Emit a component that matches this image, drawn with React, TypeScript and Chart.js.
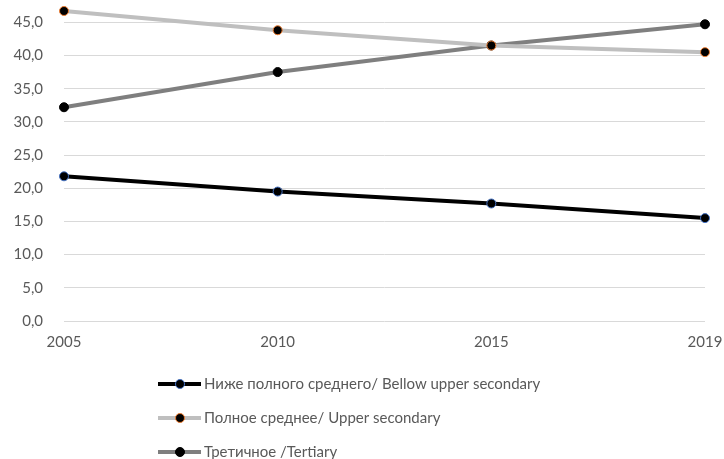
import React, { useEffect, useRef } from "react";
import { Chart, registerables } from "chart.js";

Chart.register(...registerables);

const years = ["2005", "2010", "2015", "2019"];
const belowUpperSecondary = [21.8, 19.5, 17.7, 15.5];
const upperSecondary = [46.7, 43.8, 41.5, 40.5];
const tertiary = [32.2, 37.5, 41.5, 44.7];
const yTicks = [0, 5, 10, 15, 20, 25, 30, 35, 40, 45];
const seriesNames = [
  "Ниже полного среднего/ Bellow upper secondary",
  "Полное среднее/ Upper secondary",
  "Третичное /Tertiary",
];

const FONT = "Lato, 'Open Sans', sans-serif";
const TEXT = "#595959";

const legendPlugin = {
  id: "customLegend",
  afterDraw(chart: any) {
    const ctx = chart.ctx;
    const rows = [384, 418, 452];
    chart.data.datasets.forEach((ds: any, i: number) => {
      const y = rows[i];
      ctx.save();
      ctx.strokeStyle = ds.borderColor;
      ctx.lineWidth = 4;
      ctx.beginPath();
      ctx.moveTo(158, y);
      ctx.lineTo(201, y);
      ctx.stroke();
      ctx.beginPath();
      ctx.arc(180, y, 4.5, 0, Math.PI * 2);
      ctx.fillStyle = ds.pointBackgroundColor;
      ctx.fill();
      ctx.lineWidth = 1;
      ctx.strokeStyle = ds.pointBorderColor;
      ctx.stroke();
      ctx.fillStyle = TEXT;
      ctx.font = `15px ${FONT}`;
      ctx.textBaseline = "middle";
      ctx.textAlign = "left";
      ctx.fillText(ds.label, 204, y);
      ctx.restore();
    });
  },
};

export default function App() {
  const ref = useRef<HTMLCanvasElement>(null);
  useEffect(() => {
    if (!ref.current) return;
    const mk = (label: string, data: number[], color: string, pb: string) => ({
      label,
      data,
      borderColor: color,
      backgroundColor: color,
      borderWidth: 4,
      pointRadius: 4.5,
      pointHoverRadius: 4.5,
      pointBackgroundColor: "#000000",
      pointBorderColor: pb,
      pointBorderWidth: 1,
      tension: 0,
      clip: false as any,
    });
    const chart = new Chart(ref.current, {
      type: "line",
      data: {
        labels: years,
        datasets: [
          mk(seriesNames[0], belowUpperSecondary, "#000000", "#4472C4"),
          mk(seriesNames[1], upperSecondary, "#BFBFBF", "#ED7D31"),
          mk(seriesNames[2], tertiary, "#7F7F7F", "#000000"),
        ],
      },
      options: {
        animation: false,
        responsive: false,
        maintainAspectRatio: false,
        layout: { padding: { left: 0, right: 19, top: 9, bottom: 0 } },
        plugins: { legend: { display: false }, tooltip: { enabled: false } },
        scales: {
          x: {
            offset: false,
            grid: { display: false, drawTicks: false },
            border: { display: false },
            ticks: {
              color: TEXT,
              font: { family: FONT, size: 15 },
              padding: 12,
              maxRotation: 0,
            },
            afterFit: (s: any) => {
              s.height = 138;
              s.paddingLeft = 0;
              s.paddingRight = 0;
            },
          },
          y: {
            min: 0,
            max: 47,
            grid: { color: "#D9D9D9", lineWidth: 1, drawTicks: false },
            border: { display: false },
            ticks: {
              color: TEXT,
              font: { family: FONT, size: 15 },
              padding: 21,
              autoSkip: false,
              callback: (v: any) => Number(v).toFixed(1).replace(".", ","),
            },
            afterBuildTicks: (s: any) => {
              s.ticks = yTicks.map((value) => ({ value }));
            },
            afterFit: (s: any) => {
              s.width = 64;
              s.paddingTop = 0;
              s.paddingBottom = 0;
            },
          },
        },
      },
      plugins: [legendPlugin],
    });
    return () => chart.destroy();
  }, []);
  return (
    <div style={{ position: "absolute", left: 0, top: 0, width: 724, height: 459, background: "#fff" }}>
      <canvas ref={ref} width={724} height={459} style={{ width: 724, height: 459, display: "block" }} />
    </div>
  );
}
